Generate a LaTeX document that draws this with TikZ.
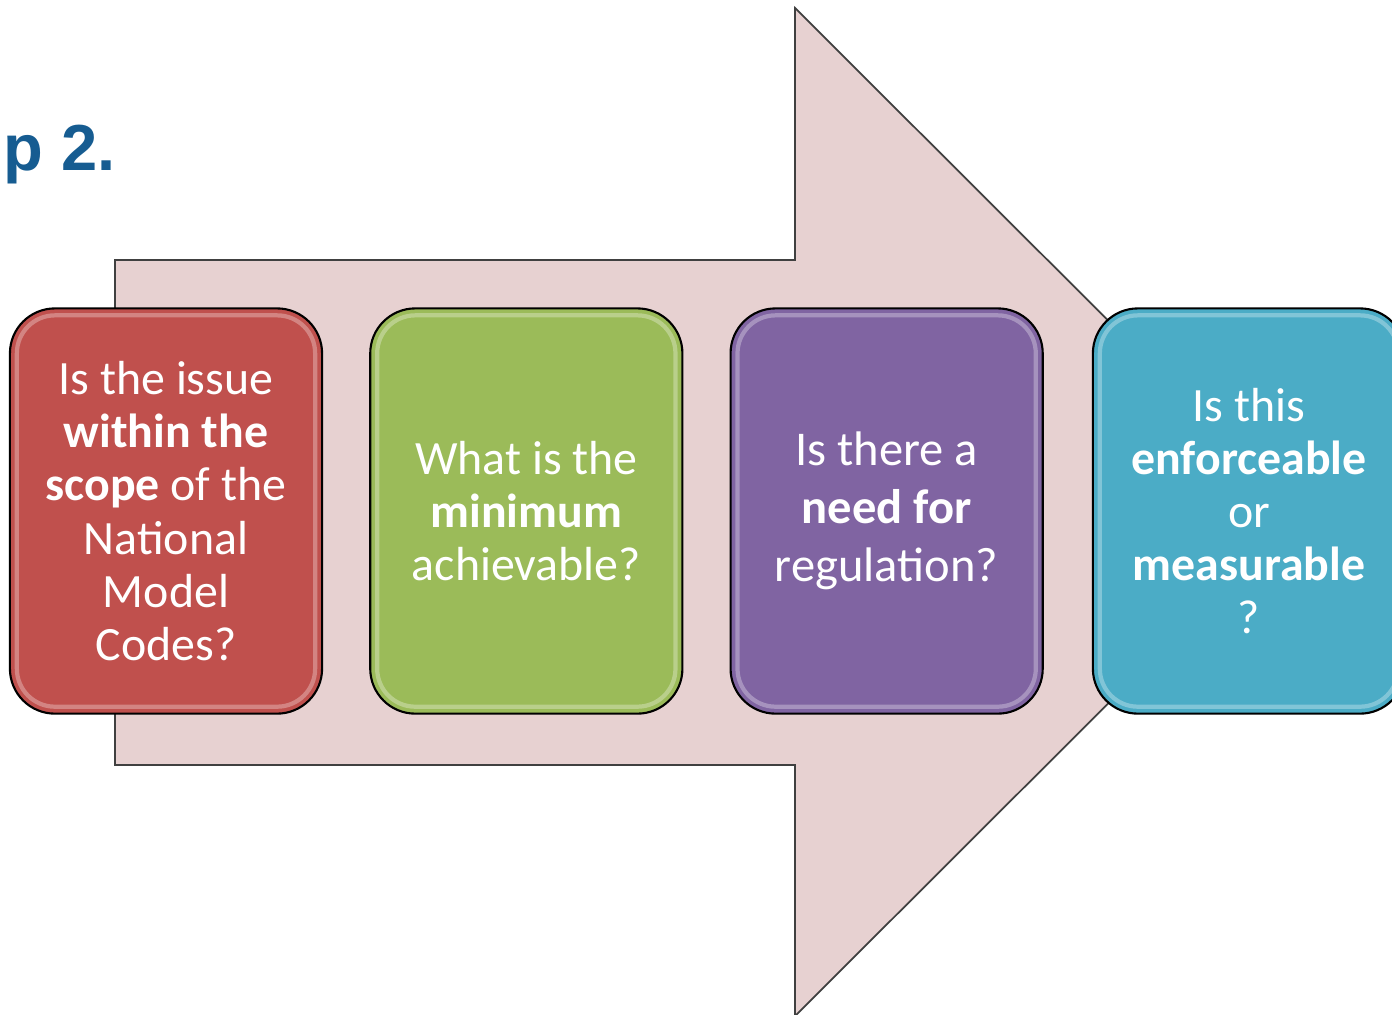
\documentclass[tikz,border=0pt]{standalone}
\usepackage{fontspec}
\setmainfont{Carlito}
\newfontfamily\titlefont{Liberation Sans}
\usetikzlibrary{positioning}
\definecolor{stepRed}{RGB}{192, 80, 77}
\definecolor{stepGreen}{RGB}{155, 187, 89}
\definecolor{stepPurple}{RGB}{128, 100, 162}
\definecolor{stepBlue}{RGB}{75, 172, 198}
\definecolor{arrowPink}{RGB}{231, 209, 209}
\definecolor{titleBlue}{RGB}{22, 92, 145}
\tikzset{
  qbox/.style={draw=black, line width=0.6pt, rounded corners=0.45cm,
    minimum width=3.12cm, minimum height=4.05cm, inner sep=0pt,
    text=white, align=center, font=\fontsize{13.6}{15.1}\selectfont},
  gloss/.style={white, opacity=0.3, line width=1.2pt, rounded corners=0.38cm}
}
\begin{document}
\begin{tikzpicture}[x=0.01cm, y=-0.01cm]
\useasboundingbox (0,0) rectangle (1392,1014);

% Big arrow
\draw[fill=arrowPink, draw=black!75, line width=0.5pt]
  (115,260) -- (795,260) -- (795,8) -- (1300,512) -- (795,1016)
  -- (795,765) -- (115,765) -- cycle;

% Title
\node[anchor=base west, inner sep=0pt, text=titleBlue,
  font=\titlefont\bfseries\fontsize{18.5}{22}\selectfont] (title) at (3,170) {p 2.};

% Question boxes
\node[qbox, fill=stepRed] (scope) at (166,511)
  {Is the issue\\ \textbf{within the}\\ \textbf{scope} of the\\ National\\ Model\\ Codes?};
\node[qbox, fill=stepGreen, right=0.46cm of scope] (minimum)
  {What is the\\ \textbf{minimum}\\ achievable?};
\node[qbox, fill=stepPurple, right=0.46cm of minimum,
  font=\fontsize{13.8}{16.5}\selectfont] (need)
  {Is there a\\ \textbf{need for}\\ regulation?};
\node[qbox, fill=stepBlue, right=0.48cm of need] (enforce)
  {Is this\\ \textbf{enforceable}\\ or\\ \textbf{measurable}\\ ?};

% Glossy edges
\foreach \b in {scope, minimum, need, enforce} {
  \draw[gloss] ([shift={(8,8)}]\b.north west) rectangle ([shift={(-8,-8)}]\b.south east);
}
\end{tikzpicture}
\end{document}
